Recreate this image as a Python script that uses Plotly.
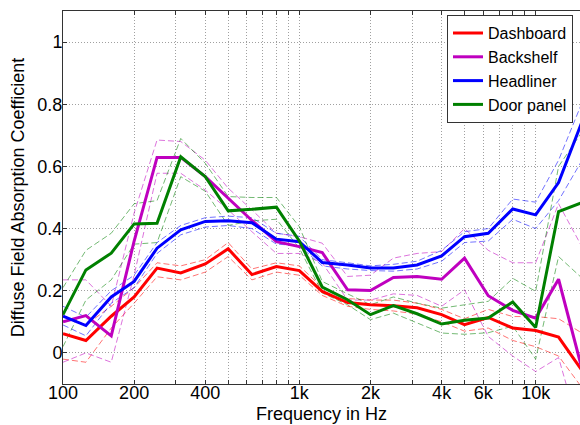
import plotly.graph_objects as go

freqs = [100, 125, 160, 200, 250, 315, 400, 500, 630, 800, 1000, 1250, 1600,
         2000, 2500, 3150, 4000, 5000, 6300, 8000, 10000, 12500, 16000]

dashboard = [0.062, 0.040, 0.118, 0.180, 0.273, 0.257, 0.286, 0.335, 0.252, 0.278, 0.265, 0.198,
             0.162, 0.155, 0.152, 0.145, 0.123, 0.091, 0.114, 0.080, 0.072, 0.051, -0.065]
dashboard_hi = [0.12, 0.09, 0.15, 0.21, 0.29, 0.28, 0.30, 0.355, 0.27, 0.29, 0.28, 0.21,
                0.175, 0.17, 0.17, 0.16, 0.14, 0.11, 0.14, 0.117, 0.117, 0.11, 0.06]
dashboard_lo = [-0.02, -0.03, 0.08, 0.16, 0.245, 0.235, 0.26, 0.31, 0.235, 0.26, 0.25, 0.185,
                0.15, 0.14, 0.135, 0.125, 0.10, 0.07, 0.08, 0.04, 0.02, -0.01, -0.12]

backshelf = [0.100, 0.120, 0.055, 0.360, 0.629, 0.629, 0.567, 0.497, 0.426, 0.358, 0.342, 0.323,
             0.203, 0.201, 0.243, 0.246, 0.237, 0.305, 0.184, 0.137, 0.112, 0.237, -0.075]
backshelf_hi = [0.235, 0.235, 0.15, 0.45, 0.685, 0.68, 0.62, 0.53, 0.46, 0.385, 0.374, 0.353,
                0.246, 0.25, 0.305, 0.32, 0.326, 0.40, 0.33, 0.29, 0.29, 0.48, 0.33]
backshelf_lo = [-0.03, 0.0, -0.03, 0.25, 0.578, 0.578, 0.524, 0.46, 0.39, 0.32, 0.32, 0.29,
                0.17, 0.17, 0.19, 0.185, 0.15, 0.203, 0.053, -0.01, -0.06, -0.015, -0.3]

headliner = [0.118, 0.088, 0.180, 0.230, 0.337, 0.396, 0.423, 0.425, 0.419, 0.366, 0.358, 0.291,
             0.283, 0.273, 0.273, 0.283, 0.312, 0.374, 0.385, 0.463, 0.444, 0.548, 0.760]
headliner_hi = [0.15, 0.115, 0.20, 0.25, 0.355, 0.41, 0.435, 0.44, 0.435, 0.385, 0.375, 0.30,
                0.29, 0.28, 0.285, 0.295, 0.33, 0.39, 0.40, 0.495, 0.485, 0.62, 0.82]
headliner_lo = [0.09, 0.055, 0.16, 0.21, 0.32, 0.38, 0.405, 0.41, 0.40, 0.35, 0.345, 0.28,
                0.27, 0.265, 0.263, 0.27, 0.295, 0.355, 0.36, 0.43, 0.40, 0.49, 0.63]

door = [0.123, 0.267, 0.321, 0.415, 0.417, 0.631, 0.567, 0.457, 0.462, 0.469, 0.360, 0.212,
        0.171, 0.123, 0.152, 0.126, 0.093, 0.105, 0.112, 0.164, 0.082, 0.455, 0.486]
door_hi = [0.21, 0.33, 0.385, 0.48, 0.49, 0.69, 0.61, 0.503, 0.50, 0.50, 0.406, 0.23,
           0.19, 0.155, 0.18, 0.16, 0.144, 0.155, 0.166, 0.24, 0.198, 0.60, 0.72]
door_lo = [0.02, 0.17, 0.235, 0.35, 0.355, 0.567, 0.52, 0.41, 0.425, 0.43, 0.337, 0.193,
           0.155, 0.107, 0.128, 0.096, 0.064, 0.06, 0.065, 0.086, -0.02, 0.31, 0.235]

names = ["Dashboard", "Backshelf", "Headliner", "Door panel"]
colors = ["#ff0000", "#bf00bf", "#0000ff", "#008000"]
light = ["rgba(255,0,0,0.55)", "rgba(191,0,191,0.55)", "rgba(0,0,255,0.55)", "rgba(0,128,0,0.55)"]
means = [dashboard, backshelf, headliner, door]
his = [dashboard_hi, backshelf_hi, headliner_hi, door_hi]
los = [dashboard_lo, backshelf_lo, headliner_lo, door_lo]

x_tickvals = [100, 200, 300, 400, 500, 600, 700, 800, 900, 1000, 2000, 3000, 4000, 5000,
              6000, 7000, 8000, 9000, 10000]
x_labels = {100: "100", 200: "200", 400: "400", 1000: "1k", 2000: "2k", 4000: "4k",
            6000: "6k", 10000: "10k"}
x_ticktext = [x_labels.get(v, "") for v in x_tickvals]
y_tickvals = [0, 0.2, 0.4, 0.6, 0.8, 1]
y_ticktext = ["0", "0.2", "0.4", "0.6", "0.8", "1"]

fig = go.Figure()
for i in range(4):
    for band in (his[i], los[i]):
        fig.add_trace(go.Scatter(x=freqs, y=band, mode="lines", showlegend=False,
                                 line=dict(color=light[i], width=1, dash="6px,3px"),
                                 hoverinfo="skip"))
for i in range(4):
    fig.add_trace(go.Scatter(x=freqs, y=means[i], mode="lines", name=names[i],
                             line=dict(color=colors[i], width=3)))

font = "Liberation Sans, Arial, Helvetica, sans-serif"
fig.update_layout(
    width=580, height=425,
    margin=dict(l=63, r=0, t=11, b=41, autoexpand=False),
    paper_bgcolor="white", plot_bgcolor="white",
    font=dict(family=font, size=18, color="black"),
    showlegend=True,
    legend=dict(x=0.7427, y=0.989, xanchor="left", yanchor="top",
                bgcolor="white", bordercolor="#333333", borderwidth=1,
                font=dict(size=16), tracegroupgap=0, itemwidth=30),
    xaxis=dict(type="log", range=[2, 4.1876], tickvals=x_tickvals, ticktext=x_ticktext,
               showgrid=True, gridcolor="#a0a0a0", griddash="1px,2px", gridwidth=1,
               ticks="inside", ticklen=4, tickcolor="#333333",
               showline=True, linecolor="#333333", linewidth=1, mirror="ticks",
               zeroline=False, tickfont=dict(size=18), ticklabelstandoff=-8,
               title=dict(text="Frequency in Hz", font=dict(size=18), standoff=5)),
    yaxis=dict(range=[-0.1, 1.1], tickvals=y_tickvals, ticktext=y_ticktext,
               showgrid=True, gridcolor="#a0a0a0", griddash="1px,2px", gridwidth=1,
               ticks="inside", ticklen=4, tickcolor="#333333",
               showline=True, linecolor="#333333", linewidth=1,
               zeroline=False, tickfont=dict(size=18), ticklabelstandoff=-4,
               title=dict(text="Diffuse Field Absorption Coefficient", font=dict(size=18),
                          standoff=8)),
)

fig.write_html("out.html", config={"displayModeBar": False},
               post_script="document.body.style.margin='0';")
